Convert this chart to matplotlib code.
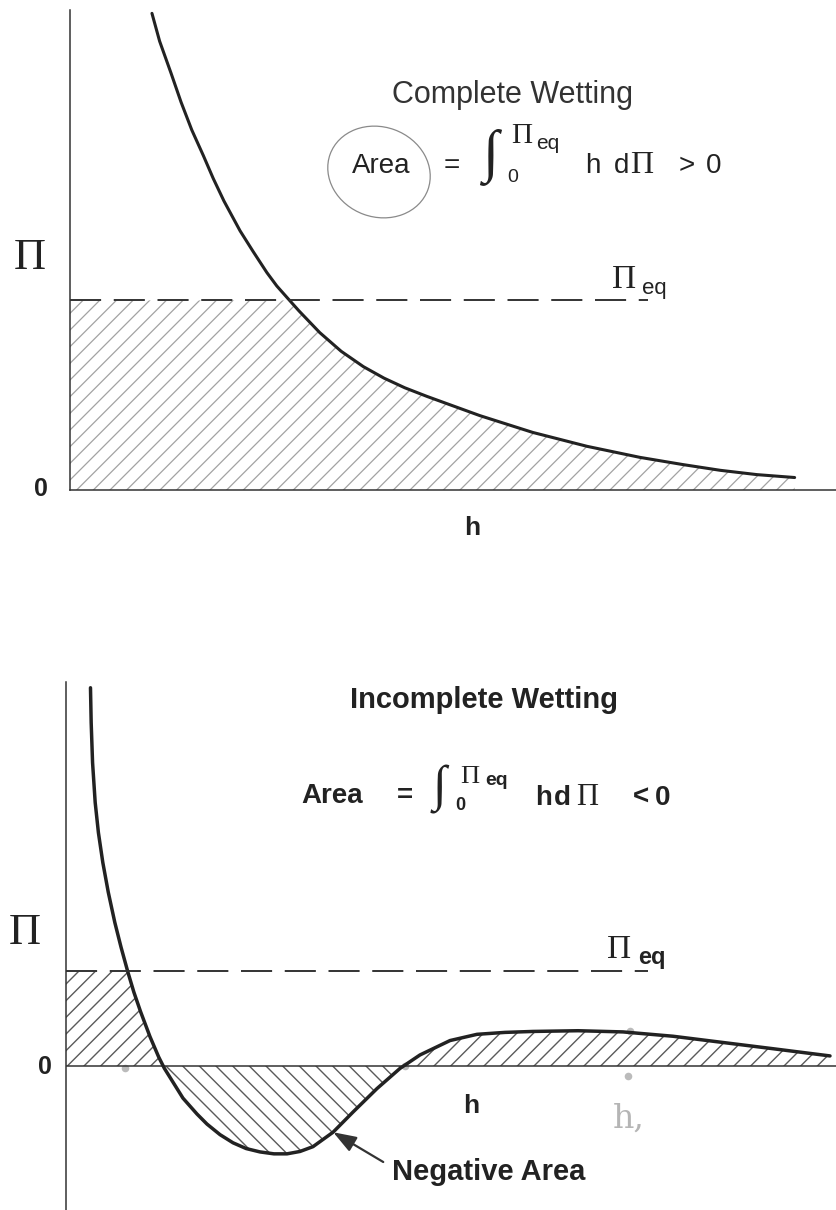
import numpy as np
import matplotlib
matplotlib.use("Agg")
import matplotlib.pyplot as plt
from matplotlib.patches import Ellipse

SANS = "Liberation Sans"
SERIF = "Liberation Serif"
INK = "#222222"

# --- complete wetting: disjoining pressure curve (h, Pi) ---
h_top = [1.07, 1.17, 1.32, 1.45, 1.59, 1.74, 1.87, 2.01, 2.22, 2.39, 2.57, 2.70,
         2.85, 2.99, 3.26, 3.54, 3.83, 4.10, 4.37, 4.66, 5.35, 6.04, 6.75, 7.44,
         8.00, 8.49, 8.97, 9.46]
pi_top = [9.93, 9.35, 8.68, 8.08, 7.50, 6.97, 6.49, 6.02, 5.40, 4.97, 4.53, 4.25,
          3.98, 3.73, 3.28, 2.89, 2.57, 2.33, 2.13, 1.95, 1.55, 1.20, 0.91, 0.68,
          0.53, 0.41, 0.32, 0.26]
pi_eq_top = 3.95
h_eq_end_top = 7.55

# --- incomplete wetting ---
h_bot = [0.318, 0.327, 0.345, 0.379, 0.421, 0.478, 0.549, 0.634, 0.714, 0.803,
         0.881, 0.969, 1.091, 1.203, 1.278, 1.519, 1.701, 1.831, 2.000, 2.169,
         2.340, 2.519, 2.700, 2.870, 3.040, 3.208, 3.468, 3.727, 4.039, 4.338,
         4.597, 4.987, 5.338, 5.700, 6.065, 6.650, 7.234, 7.883, 8.532, 9.182,
         9.922]
pi_bot = [7.88, 7.15, 6.32, 5.49, 4.86, 4.24, 3.62, 2.99, 2.48, 1.96,
          1.54, 1.13, 0.61, 0.19, -0.05, -0.67, -1.00, -1.21, -1.43, -1.60,
          -1.72, -1.79, -1.83, -1.83, -1.78, -1.68, -1.38, -0.96, -0.47, -0.05,
          0.23, 0.53, 0.66, 0.70, 0.72, 0.735, 0.71, 0.62, 0.49, 0.36,
          0.21]
pi_eq_bot = 1.97
h_eq_end_bot = 7.56

# pencil marks on the scan
pencil_h = [0.77, 4.40, 7.32, 7.30]
pencil_pi = [-0.05, 0.0, 0.72, -0.2]

fig = plt.figure(figsize=(8.36, 12.10), dpi=100)

# ---------------- top panel ----------------
ax1 = fig.add_axes([70/836, (1210-490)/1210, 766/836, 480/1210])
ax1.set_xlim(0, 10)
ax1.set_ylim(0, 10)
h1 = np.concatenate([[0], h_top])
up1 = np.concatenate([[pi_eq_top], np.minimum(pi_top, pi_eq_top)])
with plt.rc_context({"hatch.linewidth": 0.9}):
    ax1.fill_between(h1, 0, up1, facecolor="none", edgecolor="#a2a2a2",
                     linewidth=0, hatch="//")
ax1.plot(h_top, pi_top, color=INK, lw=2.2, solid_capstyle="round",
         solid_joinstyle="round")
ax1.plot([0, h_eq_end_top], [pi_eq_top, pi_eq_top], color="#333333", lw=1.4,
         linestyle=(0, (16, 6.5)))
for s in ["top", "right"]:
    ax1.spines[s].set_visible(False)
for s in ["left", "bottom"]:
    ax1.spines[s].set_linewidth(1.1)
    ax1.spines[s].set_color("#333333")
ax1.set_xticks([])
ax1.set_yticks([])
ax1.patch.set_alpha(0)

# ---------------- bottom panel ----------------
ax2 = fig.add_axes([66/836, 0, 770/836, 528/1210])
ax2.set_xlim(0, 10)
ax2.set_ylim(-3, 8)
hb = np.array(h_bot)
pb = np.array(pi_bot)
h2 = np.concatenate([[0], hb])
p2 = np.concatenate([[pi_eq_bot], pb])
up2 = np.minimum(p2, pi_eq_bot)
with plt.rc_context({"hatch.linewidth": 1.0}):
    ax2.fill_between(h2, 0, up2, where=p2 >= 0, interpolate=True,
                     facecolor="none", edgecolor="#5a5a5a", linewidth=0, hatch="//")
    ax2.fill_between(hb, pb, 0, where=pb <= 0, interpolate=True,
                     facecolor="none", edgecolor="#5a5a5a", linewidth=0, hatch="\\\\")
ax2.axhline(0, color="#333333", lw=1.1)
ax2.plot(hb, pb, color=INK, lw=2.5, solid_capstyle="round", solid_joinstyle="round")
ax2.plot([0, h_eq_end_bot], [pi_eq_bot, pi_eq_bot], color="#333333", lw=1.4,
         linestyle=(0, (16, 6.5)))
ax2.scatter(pencil_h, pencil_pi, s=30, color="#bbbbbb", zorder=1, linewidths=0)
for s in ["top", "right", "bottom"]:
    ax2.spines[s].set_visible(False)
ax2.spines["left"].set_linewidth(1.1)
ax2.spines["left"].set_color("#333333")
ax2.set_xticks([])
ax2.set_yticks([])
ax2.patch.set_alpha(0)

# arrow pointing at the negative lobe
ax2.annotate("", xy=(3.47, -1.38), xytext=(4.12, -2.0),
             arrowprops=dict(arrowstyle="-|>,head_length=0.7,head_width=0.25",
                             mutation_scale=20, color="#333333", lw=1.6,
                             shrinkA=0, shrinkB=0))

# ---------------- text overlay (pixel coordinates) ----------------
ov = fig.add_axes([0, 0, 1, 1])
ov.set_xlim(0, 836)
ov.set_ylim(1210, 0)
ov.axis("off")
ov.patch.set_alpha(0)

def t(x, y, s, size, family=SANS, weight="normal", ha="left", va="baseline", color=INK):
    ov.text(x, y, s, fontsize=size, family=family, fontweight=weight,
            ha=ha, va=va, color=color)

INTEG = [SERIF, "DejaVu Sans"]

# top panel labels
t(30, 258, "\u03a0", 32, SERIF, ha="center", va="center")
t(41, 489, "0", 18, weight="bold", ha="center", va="center")
t(472, 528, "h", 19, weight="bold", ha="center", va="center")
t(612, 288, "\u03a0", 24, SERIF)
t(642, 294, "eq", 16)
t(512, 95, "Complete Wetting", 22, ha="center", va="center", color="#333333")
# formula
t(352, 173, "Area", 20)
t(444, 173, "=", 20)
t(482, 169, "\u222b", 42, INTEG)
t(507, 182, "0", 14)
t(511, 143, "\u03a0", 21, SERIF)
t(536, 149, "eq", 15)
t(585, 173, "h", 20)
t(614, 173, "d", 20)
t(630, 173, "\u03a0", 23, SERIF)
t(679, 173, ">", 20)
t(706, 173, "0", 20)
ov.add_patch(Ellipse((379, 172), 104, 90, angle=20, fill=False,
                     edgecolor="#8a8a8a", lw=0.9))

# bottom panel labels
t(25, 933, "\u03a0", 32, SERIF, ha="center", va="center")
t(45, 1067, "0", 18, weight="bold", ha="center", va="center")
t(471, 1106, "h", 19, weight="bold", ha="center", va="center")
t(607, 958, "\u03a0", 24, SERIF)
t(638, 964, "eq", 17, weight="bold")
t(484, 700, "Incomplete Wetting", 21, weight="bold", ha="center", va="center")
t(301, 803, "Area", 20, weight="bold")
t(397, 803, "=", 20, weight="bold")
t(433, 800, "\u222b", 36, INTEG)
t(455, 810, "0", 13, weight="bold")
t(460, 783, "\u03a0", 19, SERIF)
t(485, 785, "eq", 14, weight="bold")
t(535, 805, "h", 20, weight="bold")
t(554, 805, "d", 20, weight="bold")
t(576, 805, "\u03a0", 22, SERIF)
t(633, 805, "<", 20, weight="bold")
t(655, 805, "0", 20, weight="bold")
t(392, 1180, "Negative Area", 21, weight="bold")
t(613, 1128, "h,", 24, "DejaVu Serif", color="#b5b5b5")

fig.savefig("out.png", dpi=100)
